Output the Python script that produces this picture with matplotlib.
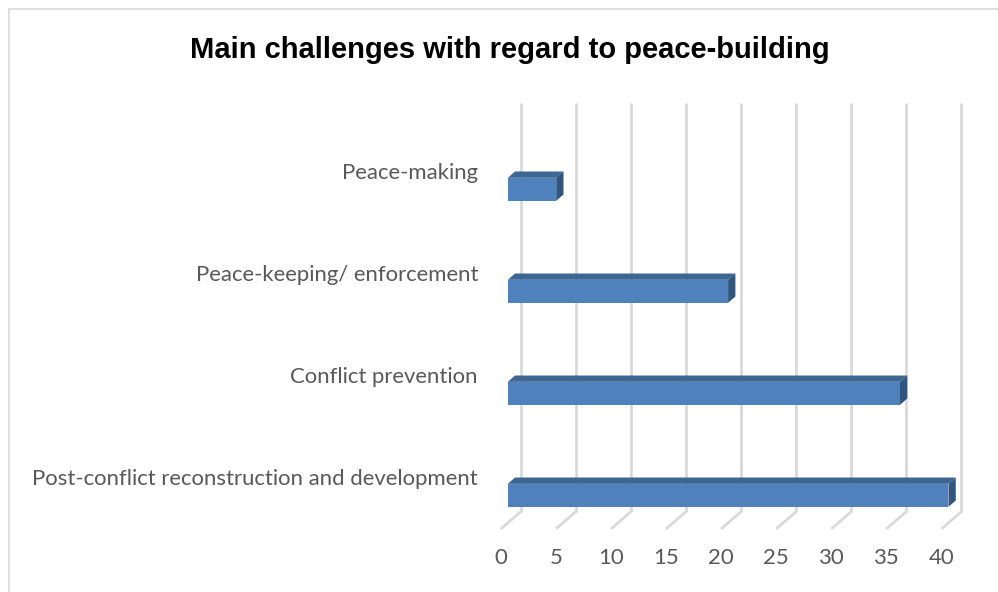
import numpy as np
import matplotlib
matplotlib.use("Agg")
import matplotlib.pyplot as plt
from matplotlib.patches import Polygon, Rectangle
from matplotlib.lines import Line2D

# Data (top to bottom)
categories = ["Peace-making", "Peace-keeping/ enforcement", "Conflict prevention",
              "Post-conflict reconstruction and development"]
values = [4.4, 20, 35.6, 40]
ticks = [0, 5, 10, 15, 20, 25, 30, 35, 40]
title = "Main challenges with regard to peace-building"

W, H, DPI = 998, 592, 100
fig = plt.figure(figsize=(W / DPI, H / DPI), dpi=DPI)
fig.patch.set_facecolor("white")

# Chart-area border
fig.add_artist(Rectangle((9 / W, -0.05), 1.2, 1 - 9 / H + 0.05, transform=fig.transFigure,
                         fill=False, edgecolor="#d9d9d9", linewidth=1.2))

# Axes laid out on the front plane of the bars
xmin, xmax = -2.0, 42.0
ytop, ybot = -0.846, 3.33
ax_left_px, ax_right_px = 485.7, 970.5
ax_top_px, ax_bot_px = 103.0, 529.0
ax = fig.add_axes([ax_left_px / W, (H - ax_bot_px) / H,
                   (ax_right_px - ax_left_px) / W, (ax_bot_px - ax_top_px) / H])
ax.set_xlim(xmin, xmax)
ax.set_ylim(ybot, ytop)
ax.set_axis_off()

px_x = (ax_right_px - ax_left_px) / (xmax - xmin)
px_y = (ax_bot_px - ax_top_px) / (ybot - ytop)

# Oblique depth vector (full floor depth), in data units
DX = 20.0 / px_x
DY = -17.3 / px_y
d_bar = 0.35          # depth of bar front face
bar_depth = 0.365     # bar thickness in depth
floor_c = 3.27        # floor level at the bar-front depth
wall_top_c = -0.74    # wall top at the bar-front depth
bar_h = 23.0 / px_y


def P(v, c, depth):
    return (v + (depth - d_bar) * DX, c + (depth - d_bar) * DY)


grid_col = "#d9d9d9"
# Back-wall gridlines and floor lines
for t in ticks:
    x0, y0 = P(t, floor_c, 1.0)
    x1, y1 = P(t, wall_top_c, 1.0)
    ax.add_line(Line2D([x0, x1], [y0, y1], color=grid_col, lw=2.0, clip_on=False,
                       solid_capstyle="butt", zorder=1))
    xf, yf = P(t, floor_c, 0.0)
    ax.add_line(Line2D([x0, xf], [y0, yf], color=grid_col, lw=2.0, clip_on=False,
                       solid_capstyle="butt", zorder=1))

front_col = "#4f81bd"
top_col = "#3e6693"
side_col = "#30557f"
idx = np.arange(len(categories))
ax.barh(idx, values, height=bar_h, left=0, color=front_col, edgecolor="none", zorder=3)
bdx, bdy = bar_depth * DX, bar_depth * DY
for i, v in zip(idx, values):
    yt, yb = i - bar_h / 2, i + bar_h / 2
    top = Polygon([(0, yt), (v, yt), (v + bdx, yt + bdy), (0 + bdx, yt + bdy)],
                  closed=True, facecolor=top_col, edgecolor="none", zorder=2)
    side = Polygon([(v, yt), (v, yb), (v + bdx, yb + bdy), (v + bdx, yt + bdy)],
                   closed=True, facecolor=side_col, edgecolor="none", zorder=2)
    ax.add_patch(top)
    ax.add_patch(side)

label_col = "#595959"
font = "Lato"
# Value-axis labels along the front edge of the floor
for t in ticks:
    xf, yf = P(t, floor_c, 0.0)
    ax.text(xf, yf + 29 / px_y, str(t), ha="center", va="center",
            fontsize=16, color=label_col, family=font, clip_on=False)

# Category labels
label_x = xmin - (ax_left_px - 478) / px_x
for i, cat in zip(idx, categories):
    ax.text(label_x, i - 16 / px_y, cat, ha="right", va="center", fontsize=15.9,
            color=label_col, family=font, clip_on=False)

fig.text(510 / W, 1 - 50 / H, title, ha="center", va="center", fontsize=21,
         fontweight="bold", family="Liberation Sans", color="black")

fig.savefig("out.png", dpi=DPI, facecolor="white")
